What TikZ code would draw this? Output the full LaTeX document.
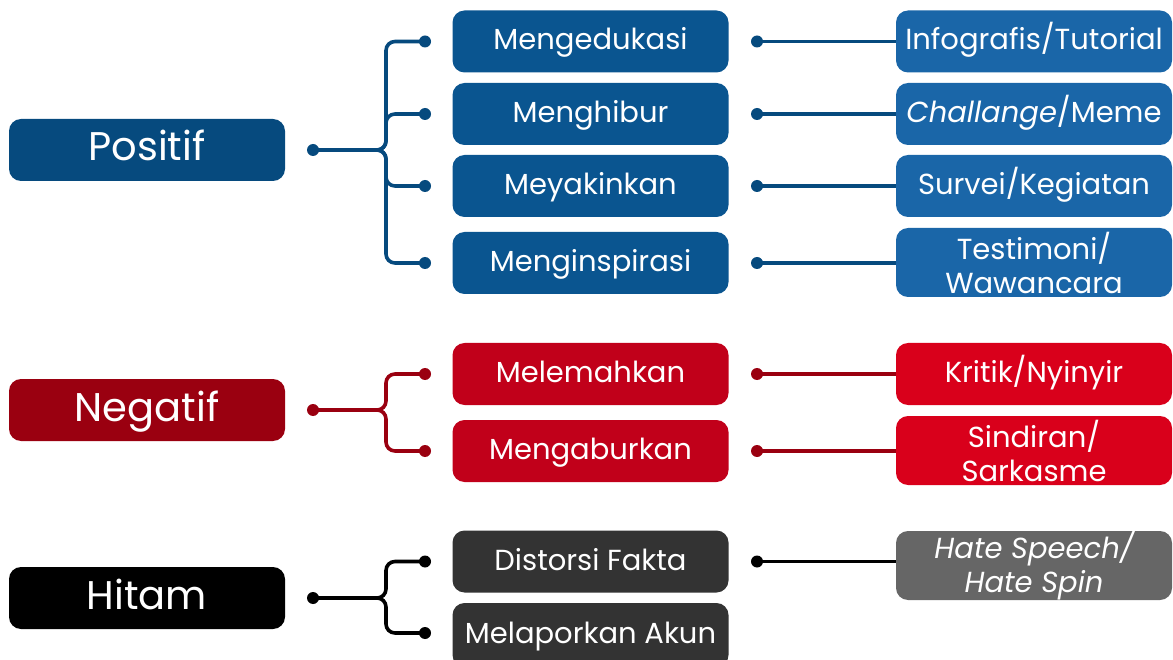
\documentclass[tikz,border=0pt]{standalone}
\usepackage{fontspec}
\setmainfont{Poppins}
\definecolor{posL}{HTML}{064A7E}
\definecolor{posM}{HTML}{0A5590}
\definecolor{posR}{HTML}{1A66A8}
\definecolor{negL}{HTML}{9A0010}
\definecolor{negM}{HTML}{C1001A}
\definecolor{negR}{HTML}{D9001B}
\definecolor{hitL}{HTML}{000000}
\definecolor{hitM}{HTML}{333333}
\definecolor{hitR}{HTML}{666666}
\tikzset{
  box/.style={rounded corners=12pt, minimum height=62pt, minimum width=276pt, text=white, inner sep=0pt, align=center, font=\fontsize{29}{34}\selectfont},
  one/.style={text height=23pt, text depth=6pt},
  lbox/.style={box, font=\fontsize{40}{44}\selectfont, text height=32pt, text depth=10pt},
  mbox/.style={box, one},
  rbox/.style={box, one},
  rbox2/.style={box, minimum height=69pt},
  dotn/.style={circle, inner sep=0pt, minimum size=12pt},
  conn/.style={line width=3.6pt, rounded corners=9pt},
  link/.style={line width=3.6pt},
}
\begin{document}
\begin{tikzpicture}[x=1pt,y=-1pt]
\useasboundingbox (0,0) rectangle (1173,660);
\clip (0,0) rectangle (1173,660);
% left boxes
\node[lbox, fill=posL] (pos) at (147,150) {Positif};
\node[lbox, fill=negL] (neg) at (147,410) {Negatif};
\node[lbox, fill=hitL] (hit) at (147,598) {Hitam};
% middle boxes
\node[mbox, fill=posM] (m1) at (590.5,41.5) {Mengedukasi};
\node[mbox, fill=posM] (m2) at (590.5,114) {Menghibur};
\node[mbox, fill=posM] (m3) at (590.5,186) {Meyakinkan};
\node[mbox, fill=posM] (m4) at (590.5,263) {Menginspirasi};
\node[mbox, fill=negM] (m5) at (590.5,374) {Melemahkan};
\node[mbox, fill=negM] (m6) at (590.5,451) {Mengaburkan};
\node[mbox, fill=hitM] (m7) at (590.5,561.5) {Distorsi Fakta};
\node[mbox, fill=hitM, minimum height=64pt] (m8) at (590.5,635) {Melaporkan Akun};
% right boxes
\node[rbox, fill=posR] (r1) at (1034,41.5) {Infografis/Tutorial};
\node[rbox, fill=posR] (r2) at (1034,114) {\itshape Challange\upshape/Meme};
\node[rbox, fill=posR] (r3) at (1034,186) {Survei/Kegiatan};
\node[rbox2, fill=posR] (r4) at (1034,262.5) {Testimoni/\\Wawancara};
\node[rbox, fill=negR] (r5) at (1034,374) {Kritik/Nyinyir};
\node[rbox2, fill=negR] (r6) at (1034,450.5) {Sindiran/\\Sarkasme};
\node[rbox2, fill=hitR] (r7) at (1034,565.5) {\itshape Hate Speech/\\\itshape Hate Spin};
% left dots
\node[dotn, fill=posL] (pd) at (313,150) {};
\node[dotn, fill=negL] (nd) at (313,410) {};
\node[dotn, fill=hitL] (hd) at (313,598) {};
% branch dots
\foreach \n/\y/\c in {1/41.5/posL,2/114/posL,3/186/posL,4/263/posL,5/374/negL,6/451/negL,7/561.5/hitL,8/633/hitL}{
  \node[dotn, fill=\c] (b\n) at (425,\y) {};
  \coordinate (v\n) at (386,\y);
}
% right dots
\foreach \n/\y/\c in {1/41.5/posL,2/114/posL,3/186/posL,4/263/posL,5/374/negL,6/451/negL,7/561.5/hitL}{
  \node[dotn, fill=\c] (d\n) at (757,\y) {};
}
\coordinate (pv) at (386,150);
\coordinate (nv) at (386,410);
\coordinate (hv) at (386,598);
% brackets
\foreach \n in {1,2,3,4}{\draw[conn, posL] (pd.center) -- (pv) -- (v\n) -- (b\n.center);}
\foreach \n in {5,6}{\draw[conn, negL] (nd.center) -- (nv) -- (v\n) -- (b\n.center);}
\foreach \n in {7,8}{\draw[conn, hitL] (hd.center) -- (hv) -- (v\n) -- (b\n.center);}
% right connectors
\foreach \n in {1,2,3,4}{\draw[link, posL] (d\n.center) -- (d\n.center -| r\n.west);}
\foreach \n in {5,6}{\draw[link, negL] (d\n.center) -- (d\n.center -| r\n.west);}
\draw[link, hitL] (d7.center) -- (d7.center -| r7.west);
\end{tikzpicture}
\end{document}
